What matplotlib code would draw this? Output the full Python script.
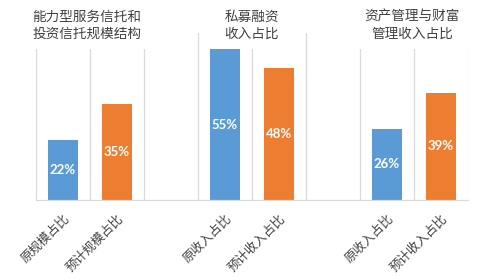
import matplotlib
matplotlib.use("Agg")
import matplotlib.pyplot as plt
import matplotlib.transforms as mtransforms
import numpy as np

categories = ["原规模占比", "预计规模占比", "", "原收入占比", "预计收入占比", "", "原收入占比", "预计收入占比"]
values = [0.22, 0.35, None, 0.55, 0.48, None, 0.26, 0.39]
kinds = ["orig", "proj", None, "orig", "proj", None, "orig", "proj"]
group_titles = ["能力型服务信托和\n投资信托规模结构", "私募融资\n收入占比", "资产管理与财富\n管理收入占比"]

colors = {"orig": "#5B9BD5", "proj": "#ED7D31"}

plt.rcParams['font.family'] = ['Noto Sans CJK SC', 'DejaVu Sans']

fig = plt.figure(figsize=(4.8, 2.8), dpi=100)
ax = fig.add_axes([0.075, 0.2857, 0.9, 0.596])
ax.set_axisbelow(True)

x = np.arange(len(categories))
for xi, v, k in zip(x, values, kinds):
    if v is None:
        continue
    ax.bar(xi, v, width=0.55, color=colors[k], zorder=2)
    ax.text(xi, v / 2, f"{round(v*100)}%", ha='center', va='center', color='white',
            fontsize=9.5, fontweight='bold', family=['Lato', 'DejaVu Sans'], zorder=3)

ax.set_xlim(-0.5, len(categories) - 0.5)
ax.set_ylim(0, 0.608)
ax.set_xticks(x)
ax.set_xticklabels(categories, rotation=45, rotation_mode='anchor', ha='right', va='center',
                   fontsize=9, color='#404040', fontweight='medium')
ax.tick_params(axis='x', length=0, pad=12)
offset = mtransforms.ScaledTranslation(4 / 100, 0, fig.dpi_scale_trans)
for lbl in ax.get_xticklabels():
    lbl.set_transform(lbl.get_transform() + offset)
ax.set_xticks(np.arange(-0.5, len(categories), 1), minor=True)
ax.tick_params(axis='x', which='minor', length=0)
ax.grid(axis='x', which='minor', color='#D9D9D9', linewidth=0.9)
ax.set_yticks([])
for s in ['top', 'right', 'left']:
    ax.spines[s].set_visible(False)
ax.spines['bottom'].set_color('#D9D9D9')
ax.spines['bottom'].set_linewidth(0.9)

# group titles
trans = mtransforms.blended_transform_factory(ax.transData, fig.transFigure)
centers = [0.44, 3.49, 6.46]
for c, t in zip(centers, group_titles):
    ax.text(c, 1 - 25 / 280, t, transform=trans, ha='center', va='center',
            fontsize=9.8, color='#404040', fontweight='medium', linespacing=1.25, zorder=1.8,
            bbox=dict(facecolor='white', edgecolor='none', pad=6), clip_on=False)

fig.savefig("out.png", dpi=100, facecolor='white')
